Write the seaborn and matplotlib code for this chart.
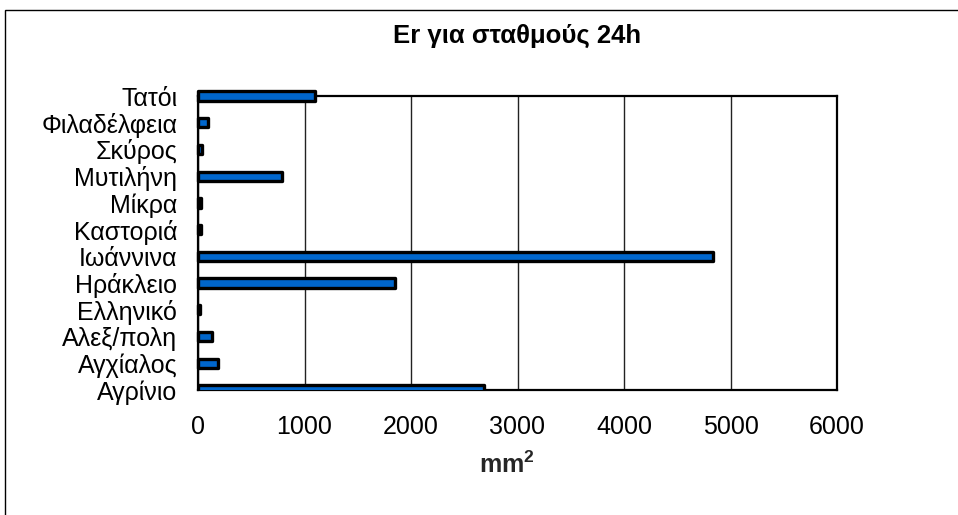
import matplotlib
matplotlib.use("Agg")
import matplotlib.pyplot as plt
import seaborn as sns
from matplotlib.patches import Rectangle

# Stations, listed top to bottom as in the chart
stations = ['Τατόι', 'Φιλαδέλφεια', 'Σκύρος', 'Μυτιλήνη', 'Μίκρα', 'Καστοριά',
            'Ιωάννινα', 'Ηράκλειο', 'Ελληνικό', 'Αλεξ/πολη', 'Αγχίαλος', 'Αγρίνιο']
er_values = [1100, 90, 40, 790, 25, 30, 4840, 1850, 15, 130, 190, 2690]
x_ticks = [0, 1000, 2000, 3000, 4000, 5000, 6000]

sns.set_style("white")
plt.rcParams['font.family'] = ['Liberation Sans', 'DejaVu Sans']
plt.rcParams['mathtext.fontset'] = 'custom'
plt.rcParams['mathtext.rm'] = 'Liberation Sans'
plt.rcParams['mathtext.bf'] = 'Liberation Sans:bold'
plt.rcParams['text.color'] = 'black'

fig = plt.figure(figsize=(9.58, 5.15), dpi=100)
ax = fig.add_axes([198 / 958, 1 - 390 / 515, 639 / 958, 294 / 515])

sns.barplot(x=er_values, y=stations, orient='h', color='#0066CC', saturation=1,
            edgecolor='black', linewidth=2.4, width=0.35, ax=ax, zorder=3)

# rounded bar corners; only the bottom bar gets cut by the axis
for i, p in enumerate(ax.patches):
    p.set_joinstyle('round')
    if i < len(stations) - 1:
        p.set_clip_on(False)

ax.set_xlim(0, 6000)
ax.set_ylim(len(stations) - 1, 0)
ax.set_xticks(x_ticks)
ax.set_xticklabels([str(t) for t in x_ticks])
ax.tick_params(labelsize=18, labelcolor='black', color='black', width=1,
               direction='out')
ax.tick_params(axis='y', length=5, pad=10)
ax.tick_params(axis='x', length=6, pad=12)
ax.xaxis.grid(True, color='#222222', linewidth=1, zorder=0)
ax.yaxis.grid(False)
for s in ax.spines.values():
    s.set_visible(True)
    s.set_color('black')
    s.set_linewidth(1.6)

ax.set_ylabel('')
ax.set_xlabel(r'$\mathbf{mm^2}$', fontsize=18)
ax.xaxis.set_label_coords(0.484, -0.21)
ax.xaxis.label.set_va('top')

fig.text((198 + 837) / 2 / 958, 1 - 43 / 515, 'Er για σταθμούς 24h',
         ha='center', va='baseline', fontsize=18.5, fontweight='bold')

# outer chart frame
fig.patches.append(Rectangle((5 / 958, -0.01), 1.0, 1 - 10 / 515 + 0.01,
                             transform=fig.transFigure, fill=False,
                             edgecolor='black', linewidth=1))

fig.savefig('out.png', dpi=100, facecolor='white')
